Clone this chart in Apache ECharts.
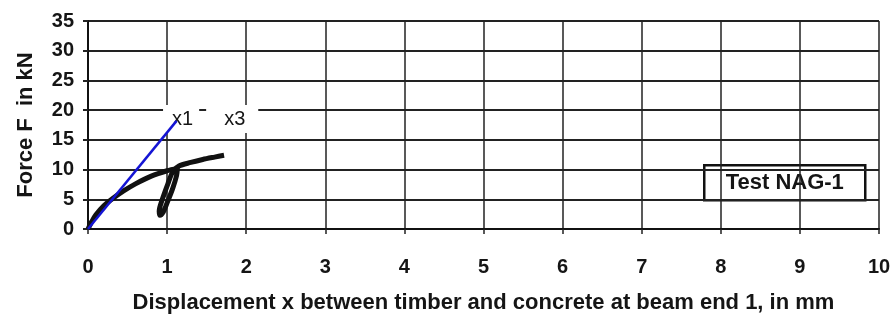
<!DOCTYPE html>
<html>
<head>
<meta charset="utf-8">
<script src="https://cdn.jsdelivr.net/npm/echarts@6/dist/echarts.min.js"></script>
<style>
  html, body { margin: 0; padding: 0; background: #fff; }
  #chart { width: 895px; height: 325px; }
</style>
</head>
<body>
<div id="chart"></div>
<script>
// Axis ranges and tick steps
const xTicks = [0, 1, 2, 3, 4, 5, 6, 7, 8, 9, 10];
const yTicks = [0, 5, 10, 15, 20, 25, 30, 35];

// Straight reference line x1 (displacement mm, force kN)
const lineX1 = [[0, 0], [1.12, 18.2]];

// Measured load–slip curve x3, including the unloading/reloading loop
const curveX3 = [
  [0, 0], [0.05, 1.3], [0.1, 2.4], [0.2, 3.9], [0.3, 5.0], [0.45, 6.4],
  [0.6, 7.6], [0.8, 8.9], [1.0, 9.8], [1.13, 10.2],
  [1.12, 9.0], [1.07, 6.8], [1.0, 4.4], [0.95, 2.8], [0.91, 2.3],
  [0.9, 3.0], [0.94, 5.0], [1.01, 7.6], [1.07, 9.6], [1.15, 10.6],
  [1.3, 11.2], [1.45, 11.7], [1.6, 12.1], [1.72, 12.4]
];

// Curve names shown as tags above the curves
const curveTags = ['x1', 'x3'];

const labelFont = 'Liberation Sans, Arial, sans-serif';
const textColor = '#151515';

// A tag on a white patch that hides the grid lines behind it
function tag(text, coord, padding) {
  return {
    coord: coord,
    label: {
      show: true,
      position: 'inside',
      formatter: text,
      fontFamily: labelFont, fontSize: 20, color: textColor,
      backgroundColor: '#fff',
      padding: padding
    }
  };
}

const chart = echarts.init(document.getElementById('chart'));
chart.setOption({
  backgroundColor: '#fff',
  animation: false,
  grid: { left: 88, right: 16, top: 21, bottom: 96 },
  xAxis: {
    type: 'value',
    min: xTicks[0], max: xTicks[xTicks.length - 1], interval: 1,
    name: 'Displacement x between timber and concrete at beam end 1, in mm',
    nameLocation: 'middle', nameGap: 63,
    nameTextStyle: { fontFamily: labelFont, fontSize: 22, fontWeight: 'bold', color: textColor },
    axisLine: { lineStyle: { color: '#111', width: 2 } },
    axisTick: { show: true, length: 5, lineStyle: { color: '#222', width: 1.5 } },
    axisLabel: { fontFamily: labelFont, fontSize: 20, fontWeight: 'bold', color: textColor, margin: 28 },
    splitLine: { show: true, lineStyle: { color: '#222', width: 1.5 } }
  },
  yAxis: {
    type: 'value',
    min: yTicks[0], max: yTicks[yTicks.length - 1], interval: 5,
    name: 'Force F  in kN',
    nameLocation: 'middle', nameGap: 51,
    nameTextStyle: { fontFamily: labelFont, fontSize: 22, fontWeight: 'bold', color: textColor },
    axisLine: { lineStyle: { color: '#111', width: 2 } },
    axisTick: { show: true, length: 5, lineStyle: { color: '#222', width: 2 } },
    axisLabel: { fontFamily: labelFont, fontSize: 20, fontWeight: 'bold', color: textColor, margin: 14 },
    splitLine: { show: true, lineStyle: { color: '#222', width: 2 } }
  },
  series: [
    {
      name: 'x3',
      type: 'line',
      data: curveX3,
      showSymbol: false,
      smooth: 0.3,
      lineStyle: { color: '#111', width: 5 },
      markPoint: {
        z: 2,
        symbol: 'rect',
        symbolSize: 1,
        itemStyle: { color: 'rgba(0,0,0,0)' },
        data: [
          tag(curveTags[0], [1.177, 18.51], [7, 6, 1, 9]),
          tag(curveTags[1], [1.823, 18.51], [7, 13, 1, 18])
        ]
      },
      z: 3
    },
    {
      name: 'x1',
      type: 'line',
      data: lineX1,
      showSymbol: false,
      lineStyle: { color: '#1414d4', width: 2.5 },
      z: 8
    }
  ],
  graphic: [
    {
      type: 'group',
      left: 703, top: 164,
      children: [
        { type: 'rect', shape: { x: 0, y: 0, width: 161, height: 35 },
          style: { fill: '#fff', stroke: '#111', lineWidth: 2.5 } },
        { type: 'text', x: 80.5, y: 18,
          style: { text: 'Test NAG-1', fontFamily: labelFont, fontSize: 22, fontWeight: 'bold',
                   fill: textColor, align: 'center', verticalAlign: 'middle' } }
      ]
    }
  ]
});
</script>
</body>
</html>
